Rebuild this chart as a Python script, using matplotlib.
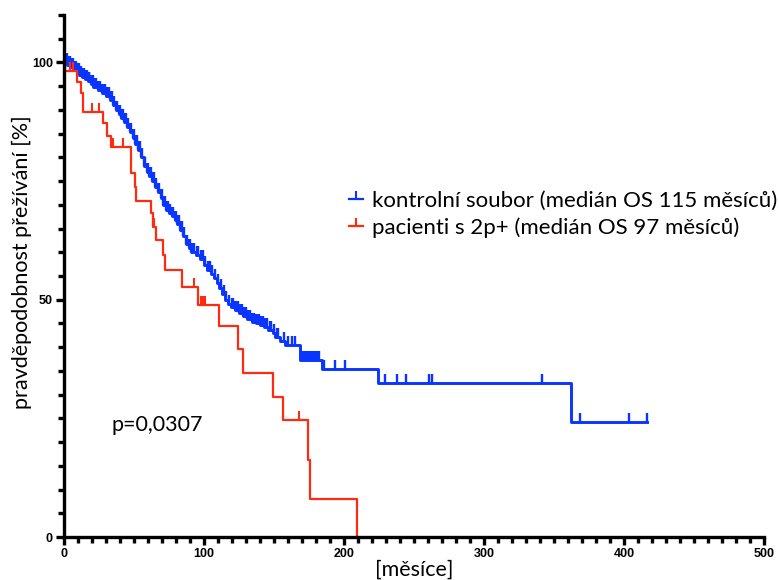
import numpy as np
import matplotlib
matplotlib.use("Agg")
import matplotlib.pyplot as plt
from matplotlib.path import Path
from matplotlib.lines import Line2D

# control group (kontrolni soubor): step times [months] and survival [%] after each step
blue_time = [0, 2, 5, 7, 9, 11, 13, 15, 17, 19, 21, 24, 27, 30, 33, 35, 37, 39, 41, 43,
             45, 47, 49, 51, 53, 55, 57, 59, 61, 63, 65, 67, 69, 71, 73, 75, 77, 79, 81, 83,
             85, 87, 89, 91, 94, 97, 100, 102, 105, 107, 109, 111, 113, 115, 117, 119, 122, 125, 128, 131,
             134, 137, 140, 143, 146, 149, 151, 154, 158, 168.5, 184, 224, 362]
blue_surv = [100, 99.5, 99.0, 98.4, 98.0, 97.4, 97.0, 96.5, 96.0, 95.4, 94.8, 94.2, 93.6, 92.9, 92.0, 91.0, 90.0, 89.1, 88.3, 87.5,
             86.5, 85.3, 84.0, 82.8, 81.6, 80.0, 78.2, 76.9, 76.0, 75.0, 73.8, 72.6, 71.5, 70.0, 68.9, 68.2, 67.6, 66.9, 66.0, 64.6,
             63.4, 61.8, 61.0, 60.0, 59.4, 58.5, 57.3, 56.2, 55.5, 54.5, 53.5, 52.4, 51.3, 49.9, 49.2, 48.5, 47.8, 47.1, 46.5, 45.9,
             45.4, 45.0, 44.6, 44.2, 43.6, 42.9, 42.2, 41.2, 40.4, 37.2, 35.4, 32.4, 24.3]
blue_end = 416.6
blue_cens = [0.5, 1, 1.8, 2.5, 3, 3.7, 4.4, 5, 5.8, 6.5, 7.2, 8, 8.6, 9.3, 10, 10.8, 11.5, 12.2, 13, 13.8,
             14.4, 15.2, 16, 16.7, 17.5, 18.2, 19, 19.7, 20.5, 21.3, 22, 23, 24, 25, 26, 27, 28, 29, 30, 31,
             32, 33, 34, 35, 36, 37, 38, 39, 40, 41, 42, 43, 44, 45, 46, 47, 48, 49, 50, 51,
             52, 53, 54, 55, 56, 57, 58, 59, 60, 61, 62, 63, 64, 65, 66, 67, 68, 69, 70, 71,
             72, 73, 74, 75, 76, 77, 78, 79, 80, 81, 82, 83, 84, 85, 86, 87, 88, 89, 90, 91,
             92, 93, 95, 96, 98, 99, 101, 103, 104, 106, 108, 110, 112, 114, 116, 118, 120, 121, 122, 123,
             124, 125, 126, 127, 128, 129, 130, 131, 132, 133, 134, 135, 136, 137, 138, 139, 140, 141, 142, 143,
             144, 145, 147, 148, 150, 152, 153, 157, 160, 163, 165, 169, 170, 171, 172, 173, 174, 175, 176, 177,
             178, 179, 180, 181, 182, 186, 193.5, 200.5, 229, 238, 244, 261, 262.5, 341.5, 368.5, 403.5, 416.5]

# patients with 2p+
red_time = [0, 1, 9, 12, 13.5, 28, 31, 33.5, 48, 50.5, 51.5, 62, 63.5, 65.5, 70.5, 72,
            84, 96, 110.5, 124, 128, 149, 156.5, 174.5, 175.5, 209.5]
red_surv = [100, 98.1, 95.8, 93.5, 89.5, 87.2, 84.6, 82.1, 76.6, 73.7, 70.9, 68.2, 65.3, 62.5, 59.4, 56.2,
            52.7, 48.8, 44.4, 39.6, 34.5, 29.5, 24.6, 16.2, 8.0, 0]
red_cens = [4, 6.5, 20, 25, 35, 42, 64, 92.5, 97.5, 99, 100.5, 168]

labels = ["kontrolní soubor (medián OS 115 měsíců)", "pacienti s 2p+ (medián OS 97 měsíců)"]
blue = "#0a34ff"
red = "#ff2a10"
font = ["Lato", "DejaVu Sans"]

# upward tick used for censored patients
tick = Path([(0, 0), (0, 1)], [Path.MOVETO, Path.LINETO])


def surv_at(times, surv, t):
    i = np.searchsorted(times, t, side="right") - 1
    return np.asarray(surv)[i]


fig = plt.figure(figsize=(7.79, 5.80), dpi=100)
ax = fig.add_axes([64 / 779, 43 / 580, 700 / 779, 522 / 580])

ax.step(blue_time + [blue_end], blue_surv + [blue_surv[-1]], where="post", color=blue, lw=2.1)
ax.plot(blue_cens, surv_at(blue_time, blue_surv, blue_cens), ls="none", marker=tick,
        markersize=13, mew=1.7, color=blue)
ax.step(red_time, red_surv, where="post", color=red, lw=1.6, clip_on=False)
ax.plot(red_cens, surv_at(red_time, red_surv, red_cens), ls="none", marker=tick,
        markersize=13, mew=1.5, color=red)

ax.set_xlim(0, 500)
ax.set_ylim(0, 110)
ax.set_xticks([0, 100, 200, 300, 400, 500])
ax.set_xticks(np.arange(0, 501, 10), minor=True)
ax.set_yticks([0, 50, 100])
ax.set_yticks(np.arange(0, 111, 5), minor=True)

for s in ["top", "right"]:
    ax.spines[s].set_visible(False)
for s in ["left", "bottom"]:
    ax.spines[s].set_linewidth(2.4)
ax.tick_params(which="major", length=6, width=2.4, pad=2)
ax.tick_params(which="minor", length=4.5, width=2.4)
for lab in ax.get_xticklabels() + ax.get_yticklabels():
    lab.set_fontfamily("Liberation Sans")
    lab.set_fontweight("bold")
    lab.set_fontsize(9)

ax.set_ylabel("pravděpodobnost přežívání [%]", family=font, fontsize=15.5)
ax.yaxis.set_label_coords(-0.046, 0.527)
ax.set_xlabel("[měsíce]", family=font, fontsize=15.5, labelpad=0)

ax.text(34, 23.6, "p=0,0307", family=font, fontsize=15.5, va="center", ha="left")

handles = [Line2D([], [], color=c, lw=1.6, marker=tick, markersize=12, mew=1.5)
           for c in [blue, red]]
fig.legend(handles, labels, loc="upper left", bbox_to_anchor=(349 / 779, 1 - 191 / 580),
           frameon=False, prop={"family": font, "size": 16}, handlelength=0.62,
           handletextpad=0.42, labelspacing=0.27, borderpad=0, borderaxespad=0, numpoints=1)

fig.savefig("out.png", dpi=100)
